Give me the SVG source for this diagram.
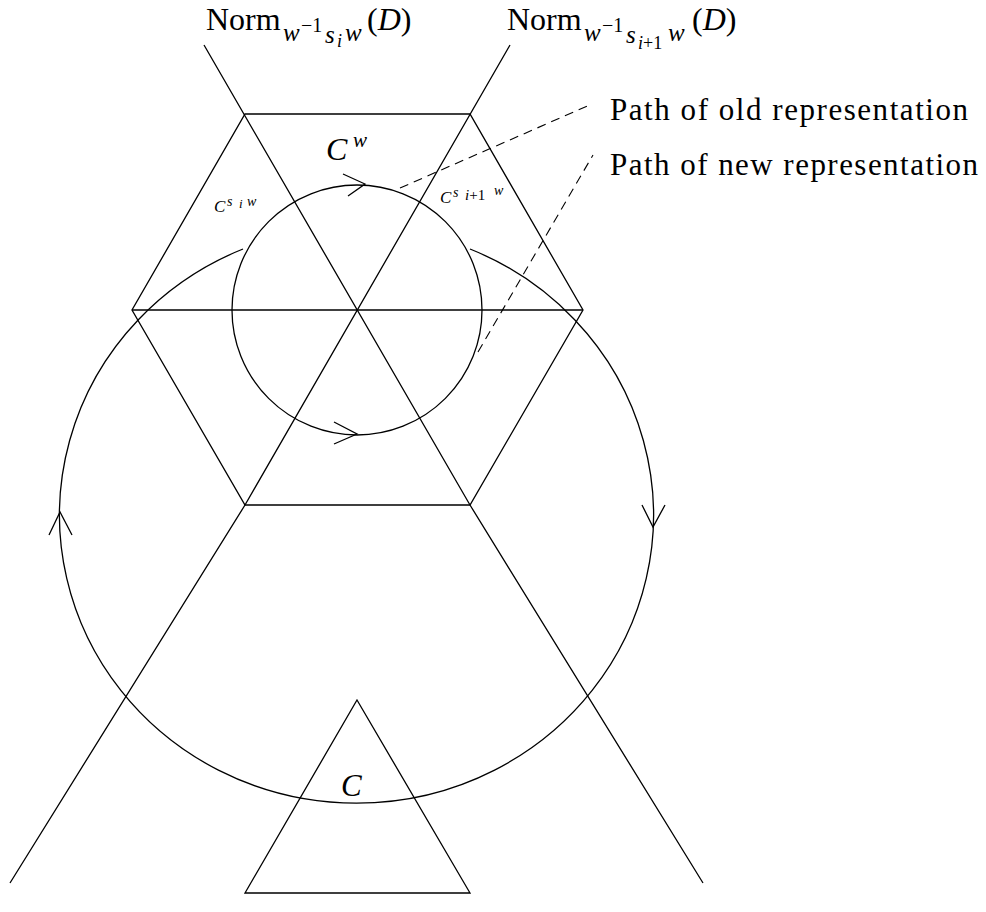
<svg xmlns="http://www.w3.org/2000/svg" width="986" height="912" viewBox="0 0 986 912">
<style>
.ln{fill:none;stroke:#000;stroke-width:1.3}
.ds{fill:none;stroke:#000;stroke-width:1.1;stroke-dasharray:9 6}
.t{font-family:"Liberation Serif","DejaVu Serif",serif;fill:#000}
.it{font-style:italic}
</style>
<rect width="986" height="912" fill="#fff"/>
<g id="hexagon">
<polygon class="ln" points="245,114 470,114 583,310 470,505 245,505 132,310"/>
</g>
<g id="connectors">
<line class="ln" x1="132" y1="310" x2="583" y2="310"/>
<polyline class="ln" points="204,45 470,505 703,883"/>
<polyline class="ln" points="510,45 245,505 10,883"/>
<path class="ln" d="M243,249 A297,288 0 1 0 470,249"/>
<circle class="ln" cx="357" cy="310" r="125"/>
<polyline class="ln" points="343,174 365,184 348,196"/>
<polyline class="ln" points="334,422 357,434 334,444"/>
<polyline class="ln" points="49,535 60,512 72,535"/>
<polyline class="ln" points="642,505 653,527 665,505"/>
<line class="ds" x1="400" y1="188" x2="592" y2="104"/>
<line class="ds" x1="478" y1="352" x2="593" y2="155"/>
</g>
<g id="triangleC">
<polygon class="ln" points="357,700 470,893 245,893"/>
<text class="t it" x="341" y="796" font-size="31">C</text>
</g>
<g id="labelCw">
<text class="t it" x="326" y="160" font-size="32">C</text>
<text class="t it" x="353" y="147" font-size="21">w</text>
</g>
<g id="labelCsiw">
<text class="t it" x="214" y="212" font-size="17">C</text>
<text class="t it" x="227" y="206" font-size="14">s</text>
<text class="t it" x="239" y="208" font-size="13">i</text>
<text class="t it" x="247" y="206" font-size="14">w</text>
</g>
<g id="labelCsi1w">
<text class="t it" x="440" y="203" font-size="17">C</text>
<text class="t it" x="453" y="197" font-size="14">s</text>
<text class="t" x="465" y="200" font-size="15"><tspan class="it">i</tspan>+1</text>
<text class="t it" x="494" y="195" font-size="14">w</text>
</g>
<g id="labelNorm1">
<text class="t" x="206" y="30" font-size="32">Norm</text>
<text class="t it" x="283" y="41" font-size="25">w</text>
<text class="t" x="301" y="32" font-size="20">−1</text>
<text class="t it" x="325" y="43" font-size="25">s</text>
<text class="t it" x="337" y="47" font-size="18">i</text>
<text class="t it" x="345" y="41" font-size="25">w</text>
<text class="t" x="367" y="30" font-size="32">(<tspan class="it">D</tspan>)</text>
</g>
<g id="labelNorm2">
<text class="t" x="507" y="30" font-size="32">Norm</text>
<text class="t it" x="584" y="41" font-size="25">w</text>
<text class="t" x="602" y="32" font-size="20">−1</text>
<text class="t it" x="626" y="43" font-size="25">s</text>
<text class="t" x="638" y="49" font-size="18"><tspan class="it">i</tspan>+1</text>
<text class="t it" x="668" y="41" font-size="25">w</text>
<text class="t" x="692" y="30" font-size="32">(<tspan class="it">D</tspan>)</text>
</g>
<g id="legendOld">
<text class="t" x="610" y="120" font-size="31" textLength="358" lengthAdjust="spacing">Path of old representation</text>
</g>
<g id="legendNew">
<text class="t" x="610" y="175" font-size="31" textLength="368" lengthAdjust="spacing">Path of new representation</text>
</g>
</svg>
